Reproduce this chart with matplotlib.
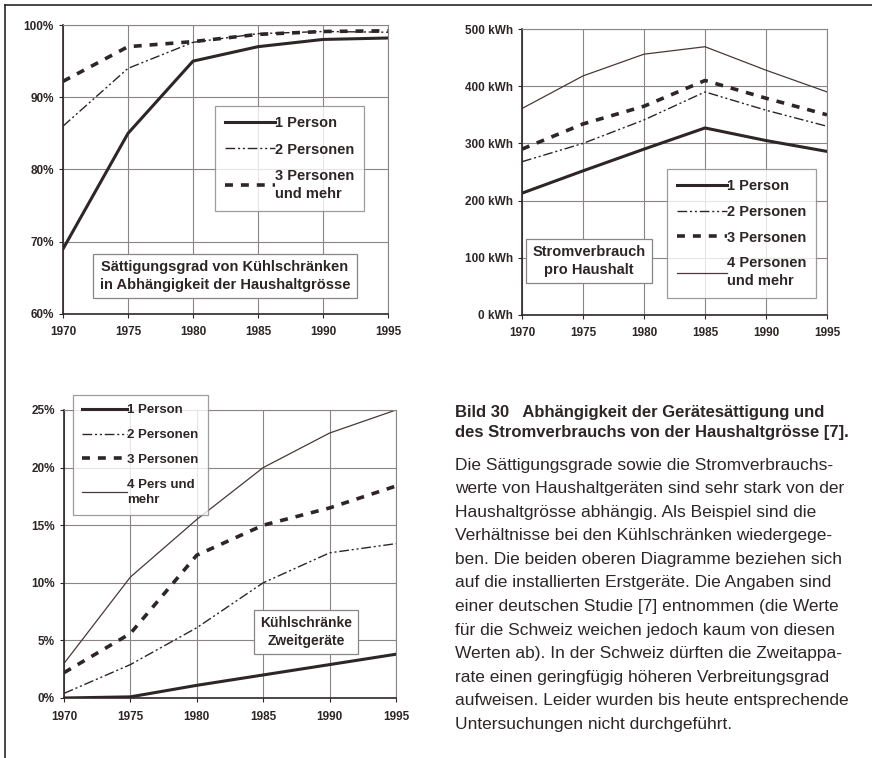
import numpy as np
import matplotlib.pyplot as plt
from matplotlib.lines import Line2D

plt.rcParams['font.family'] = ['Liberation Sans', 'DejaVu Sans']

years = [1970, 1975, 1980, 1985, 1990, 1995]

# Saettigungsgrad Kuehlschraenke (%)
sat_1p = [69, 85, 95, 97, 98, 98.2]
sat_2p = [86, 94, 97.6, 98.8, 99.1, 99.0]
sat_3p = [92.2, 97, 97.7, 98.7, 99.1, 99.2]

# Stromverbrauch pro Haushalt (kWh)
kwh_1p = [213, 252, 290, 327, 305, 286]
kwh_2p = [268, 300, 341, 390, 358, 330]
kwh_3p = [290, 334, 365, 410, 379, 350]
kwh_4p = [361, 418, 456, 469, 428, 390]

# Zweitgeraete (%)
zw_1p = [0, 0.1, 1.1, 2.0, 2.9, 3.8]
zw_2p = [0.4, 2.9, 6.1, 10.0, 12.6, 13.4]
zw_3p = [2.2, 5.6, 12.4, 15.0, 16.5, 18.4]
zw_4p = [3.0, 10.5, 15.5, 20.0, 23.0, 25.0]

W, H = 872, 758
ink = '#2e2626'
grid_c = '#8a8484'

fig = plt.figure(figsize=(W / 100, H / 100), dpi=100)


def px_axes(l, t, r, b):
    return fig.add_axes([l / W, 1 - b / H, (r - l) / W, (b - t) / H])


styles = {
    '1': dict(color=ink, lw=2.2, ls='-'),
    '2': dict(color=ink, lw=1.0, ls=(0, (7, 2, 1.5, 2, 1.5, 2))),
    '3': dict(color=ink, lw=2.6, ls=(0, (2.2, 2.2))),
    '4': dict(color='#4a3838', lw=0.9, ls='-'),
}


def style_axes(ax, ylim, yticks, ylabels):
    ax.set_xlim(1970, 1995)
    ax.set_ylim(*ylim)
    ax.set_xticks(years)
    ax.set_yticks(yticks)
    ax.set_yticklabels(ylabels)
    ax.grid(True, color=grid_c, lw=0.8)
    ax.set_axisbelow(True)
    for s in ['top', 'right']:
        ax.spines[s].set_color(grid_c)
        ax.spines[s].set_linewidth(0.8)
    for s in ['left', 'bottom']:
        ax.spines[s].set_color(ink)
        ax.spines[s].set_linewidth(1.2)
    ax.tick_params(axis='both', direction='out', length=3, width=0.8,
                   color=ink, labelsize=8.5, labelcolor=ink)
    ax.tick_params(axis='x', pad=6)
    for lab in ax.get_xticklabels() + ax.get_yticklabels():
        lab.set_fontweight('bold')


def legend_box(ax, handles, labels, bbox, fs, spacing):
    leg = ax.legend(handles, labels, loc='upper left', bbox_to_anchor=bbox,
                    bbox_transform=fig.transFigure, frameon=True, fancybox=False,
                    edgecolor=grid_c, handlelength=3.4, handletextpad=0.0,
                    labelspacing=spacing, borderpad=0.7, borderaxespad=0,
                    prop=dict(size=fs, weight='bold'))
    leg.get_frame().set_linewidth(0.9)
    for t in leg.get_texts():
        t.set_color(ink)
        t.set_linespacing(1.35)
    return leg


def label_box(ax, text, x, y, fs):
    fig.text(x / W, 1 - y / H, text, ha='center', va='center', fontsize=fs,
             fontweight='bold', color=ink, linespacing=1.35,
             bbox=dict(boxstyle='square,pad=0.45', fc='white', ec=grid_c, lw=0.9))


# --- chart 1 ---
ax1 = px_axes(63, 25, 388, 314)
ax1.plot(years, sat_1p, **styles['1'])
ax1.plot(years, sat_2p, **styles['2'])
ax1.plot(years, sat_3p, **styles['3'])
style_axes(ax1, (60, 100), [60, 70, 80, 90, 100],
           ['60%', '70%', '80%', '90%', '100%'])
h = [Line2D([], [], **styles[k]) for k in '123']
legend_box(ax1, h, ['1 Person', '2 Personen', '3 Personen\nund mehr'],
           (215 / W, 1 - 106 / H), 10.5, 0.85)
label_box(ax1, 'Sättigungsgrad von Kühlschränken\nin Abhängigkeit der Haushaltgrösse',
          225, 276, 10.5)

# --- chart 2 ---
ax2 = px_axes(522, 29, 827, 315)
ax2.plot(years, kwh_1p, **styles['1'])
ax2.plot(years, kwh_2p, **styles['2'])
ax2.plot(years, kwh_3p, **styles['3'])
ax2.plot(years, kwh_4p, **styles['4'])
style_axes(ax2, (0, 500), [0, 100, 200, 300, 400, 500],
           ['0 kWh', '100 kWh', '200 kWh', '300 kWh', '400 kWh', '500 kWh'])
h = [Line2D([], [], **styles[k]) for k in '1234']
legend_box(ax2, h, ['1 Person', '2 Personen', '3 Personen', '4 Personen\nund mehr'],
           (667 / W, 1 - 169 / H), 10.5, 0.8)
label_box(ax2, 'Stromverbrauch\npro Haushalt', 589, 261, 10.5)

# --- chart 3 ---
ax3 = px_axes(64, 410, 396, 698)
ax3.plot(years, zw_1p, **styles['1'])
ax3.plot(years, zw_2p, **styles['2'])
ax3.plot(years, zw_3p, **styles['3'])
ax3.plot(years, zw_4p, **styles['4'])
style_axes(ax3, (0, 25), [0, 5, 10, 15, 20, 25],
           ['0%', '5%', '10%', '15%', '20%', '25%'])
h = [Line2D([], [], **styles[k]) for k in '1234']
legend_box(ax3, h, ['1 Person', '2 Personen', '3 Personen', '4 Pers und\nmehr'],
           (73 / W, 1 - 395 / H), 9.5, 0.95)
label_box(ax3, 'Kühlschränke\nZweitgeräte', 306, 632, 10)

# --- frame lines ---
fig.add_artist(Line2D([5 / W, 5 / W], [0, 1 - 5 / H], color=ink, lw=1.2,
                      transform=fig.transFigure))
fig.add_artist(Line2D([5 / W, 1], [1 - 5 / H, 1 - 5 / H], color=ink, lw=1.2,
                      transform=fig.transFigure))

# --- caption ---
body_font = ['Liberation Sans', 'DejaVu Sans']
fig.text(455 / W, 1 - 413 / H, 'Bild 30   Abhängigkeit der Gerätesättigung und',
         fontsize=12, fontweight='bold', color=ink, va='center', family=body_font)
fig.text(455 / W, 1 - 433 / H, 'des Stromverbrauchs von der Haushaltgrösse [7].',
         fontsize=12, fontweight='bold', color=ink, va='center', family=body_font)

body = [
    'Die Sättigungsgrade sowie die Stromverbrauchs-',
    'werte von Haushaltgeräten sind sehr stark von der',
    'Haushaltgrösse abhängig. Als Beispiel sind die',
    'Verhältnisse bei den Kühlschränken wiedergege-',
    'ben. Die beiden oberen Diagramme beziehen sich',
    'auf die installierten Erstgeräte. Die Angaben sind',
    'einer deutschen Studie [7] entnommen (die Werte',
    'für die Schweiz weichen jedoch kaum von diesen',
    'Werten ab). In der Schweiz dürften die Zweitappa-',
    'rate einen geringfügig höheren Verbreitungsgrad',
    'aufweisen. Leider wurden bis heute entsprechende',
    'Untersuchungen nicht durchgeführt.',
]
for i, line in enumerate(body):
    fig.text(455 / W, 1 - (465 + 23.6 * i) / H, line, fontsize=12.5,
             color=ink, va='center', family=body_font)

fig.savefig('out.png', dpi=100)
